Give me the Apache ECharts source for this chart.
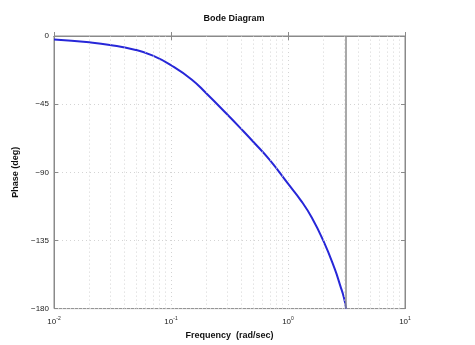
<!DOCTYPE html>
<html><head><meta charset="utf-8">
<script src="https://cdn.jsdelivr.net/npm/echarts@6/dist/echarts.min.js"></script>
<style>html,body{margin:0;padding:0;background:#fff}#c{width:475px;height:345px}</style>
</head><body><div id="c"></div>
<script>
const frequency = [0.01, 0.02, 0.03, 0.05, 0.07, 0.1, 0.15, 0.2, 0.3, 0.4, 0.5, 0.7, 1.0, 1.3, 1.6, 2.0, 2.5, 2.8, 3.0, 3.1416];
const phase     = [-2.3, -4.2, -5.9, -9.2, -13, -19.3, -28.7, -37.8, -51.5, -61.5, -69.5, -82, -97.5, -109, -120, -135, -153.5, -165, -172.5, -180];
const yTicks = [0, -45, -90, -135, -180];
const xTickExponents = [-2, -1, 0, 1];
const minorGridFrequencies = [0.02,0.03,0.04,0.05,0.06,0.07,0.08,0.09,0.2,0.3,0.4,0.5,0.6,0.7,0.8,0.9,2,3,4,5,6,7,8,9];
const markerFrequency = 3.1416;

const chart = echarts.init(document.getElementById('c'), null, {renderer: 'canvas'});
const font = 'Liberation Sans, Arial, Helvetica, sans-serif';
const gridStyle = {color: '#d4d4d4', type: [1, 3], width: 1};
const xMin = Math.pow(10, xTickExponents[0]);
const xMax = Math.pow(10, xTickExponents[xTickExponents.length - 1]);

chart.setOption({
  animation: false,
  backgroundColor: '#fff',
  title: {
    text: 'Bode Diagram', left: 229, top: 9, textAlign: 'center',
    textStyle: {fontFamily: font, fontSize: 9, fontWeight: 'bold', color: '#111'}
  },
  grid: {left: 54, right: 70, top: 36, bottom: 35, show: true, borderColor: '#8a8a8a', borderWidth: 1},
  xAxis: [{
    type: 'log', logBase: 10, min: xMin, max: xMax,
    name: 'Frequency  (rad/sec)', nameLocation: 'middle', nameGap: 21,
    nameTextStyle: {fontFamily: font, fontSize: 9, fontWeight: 'bold', color: '#111'},
    axisLine: {show: true, lineStyle: {color: '#8a8a8a'}},
    axisTick: {show: true, inside: true, length: 4, lineStyle: {color: '#8a8a8a'}},
    splitLine: {show: true, lineStyle: gridStyle},
    axisLabel: {
      margin: 8,
      formatter: v => '{b|10}{s|' + Math.round(Math.log10(v)) + '}',
      rich: {
        b: {fontFamily: font, fontSize: 8, color: '#222'},
        s: {fontFamily: font, fontSize: 5, color: '#222', verticalAlign: 'bottom', padding: [0, 0, 6, 0]}
      }
    }
  }, {
    type: 'log', logBase: 10, min: xMin, max: xMax, position: 'top',
    axisLine: {show: true, lineStyle: {color: '#8a8a8a'}},
    axisTick: {show: true, inside: true, length: 4, lineStyle: {color: '#8a8a8a'}},
    axisLabel: {show: false}, splitLine: {show: false}
  }],
  yAxis: [{
    type: 'value', min: yTicks[yTicks.length - 1], max: yTicks[0], interval: 45,
    name: 'Phase (deg)', nameLocation: 'middle', nameGap: 34, nameRotate: 90,
    nameTextStyle: {fontFamily: font, fontSize: 9, fontWeight: 'bold', color: '#111'},
    axisLine: {show: true, lineStyle: {color: '#8a8a8a'}},
    axisTick: {show: true, inside: true, length: 4, lineStyle: {color: '#8a8a8a'}},
    splitLine: {show: true, lineStyle: gridStyle},
    axisLabel: {fontFamily: font, fontSize: 8, color: '#222', margin: 5,
      formatter: v => (v < 0 ? '\u2212' + Math.abs(v) : String(v))}
  }, {
    type: 'value', min: yTicks[yTicks.length - 1], max: yTicks[0], interval: 45, position: 'right',
    axisLine: {show: true, lineStyle: {color: '#8a8a8a'}},
    axisTick: {show: true, inside: true, length: 4, lineStyle: {color: '#8a8a8a'}},
    axisLabel: {show: false}, splitLine: {show: false}
  }],
  series: [{
    type: 'line',
    data: frequency.map((f, i) => [f, phase[i]]),
    showSymbol: false, smooth: 0.5,
    lineStyle: {color: '#2727d8', width: 2},
    markLine: {
      silent: true, symbol: 'none', label: {show: false},
      data: minorGridFrequencies.map(f => ({xAxis: f, lineStyle: gridStyle}))
        .concat([{xAxis: markerFrequency, lineStyle: {color: '#8c8c8c', width: 1.5, type: 'solid'}}])
    }
  }]
});
</script></body></html>
